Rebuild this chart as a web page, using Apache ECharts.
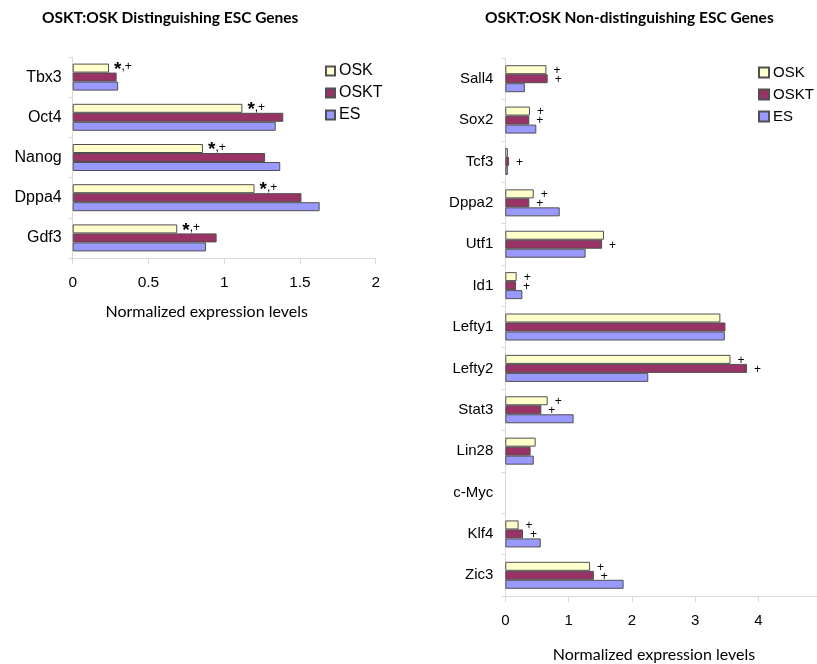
<!DOCTYPE html>
<html>
<head>
<meta charset="utf-8">
<script src="https://cdn.jsdelivr.net/npm/echarts@6/dist/echarts.min.js"></script>
<style>
  html, body { margin: 0; padding: 0; background: #fff; }
  #main { width: 817px; height: 664px; }
</style>
</head>
<body>
<div id="main"></div>
<script>
// left panel: distinguishing genes
var leftGenes = ['Tbx3', 'Oct4', 'Nanog', 'Dppa4', 'Gdf3'];
var leftOSK  = [0.24, 1.12, 0.86, 1.20, 0.69];
var leftOSKT = [0.29, 1.39, 1.27, 1.51, 0.95];
var leftES   = [0.30, 1.34, 1.37, 1.63, 0.88];
var leftOSKMarks = ['*,+', '*,+', '*,+', '*,+', '*,+'];
var leftTicks = ['0', '0.5', '1', '1.5', '2'];

// right panel: non-distinguishing genes
var rightGenes = ['Sall4', 'Sox2', 'Tcf3', 'Dppa2', 'Utf1', 'Id1', 'Lefty1', 'Lefty2', 'Stat3', 'Lin28', 'c-Myc', 'Klf4', 'Zic3'];
var rightOSK  = [0.65, 0.39, 0.04, 0.45, 1.56, 0.18, 3.40, 3.56, 0.67, 0.48, 0, 0.21, 1.34];
var rightOSKT = [0.67, 0.38, 0.06, 0.38, 1.53, 0.17, 3.48, 3.82, 0.57, 0.40, 0, 0.28, 1.40];
var rightES   = [0.31, 0.49, 0.04, 0.86, 1.27, 0.27, 3.47, 2.26, 1.08, 0.45, 0, 0.56, 1.87];
var rightOSKMarks  = ['+', '+', '', '+', '', '+', '', '+', '+', '', '', '+', '+'];
var rightOSKTMarks = ['+', '+', '+', '+', '+', '+', '', '+', '+', '', '', '+', '+'];

var colors = { OSK: '#ffffcc', OSKT: '#993366', ES: '#9999ff' };
var mainFont = 'Liberation Sans';
var nameFont = 'Lato';

function withMarks(values, marks, leftPanel) {
  return values.map(function (v, i) {
    var m = marks ? marks[i] : '';
    var item = { value: v };
    // zero bars draw nothing (no border sliver)
    if (v === 0) item.itemStyle = { borderWidth: 0 };
    if (m) {
      item.label = {
        show: true,
        position: 'right',
        distance: leftPanel ? 5 : 7,
        offset: leftPanel ? [0, -1] : [0, 1],
        formatter: leftPanel ? '{s|*}{p|,+}' : '+',
        color: '#000',
        fontFamily: mainFont,
        fontSize: 12,
        rich: {
          s: { fontSize: 19, fontWeight: 'bold', color: '#000', padding: [5, 0, 0, 0] },
          p: { fontSize: 12, color: '#000' }
        }
      };
    }
    return item;
  });
}

function barSeries(name, values, marks, idx, leftPanel) {
  return {
    name: name,
    type: 'bar',
    xAxisIndex: idx,
    yAxisIndex: idx,
    barWidth: 9,
    barGap: '0%',
    itemStyle: { color: colors[name], borderColor: '#505050', borderWidth: 1 },
    data: withMarks(values, marks, leftPanel)
  };
}

var axisGray = '#d9d9d9';

var chart = echarts.init(document.getElementById('main'));
chart.setOption({
  animation: false,
  backgroundColor: '#fff',
  title: [
    { text: 'OSKT:OSK Distinguishing ESC Genes', left: 42, top: 10, padding: 0,
      textStyle: { fontFamily: nameFont, fontSize: 15.5, fontWeight: 'bold', color: '#000' } },
    { text: 'OSKT:OSK Non-distinguishing ESC Genes', left: 485, top: 10, padding: 0,
      textStyle: { fontFamily: nameFont, fontSize: 15.5, fontWeight: 'bold', color: '#000' } }
  ],
  legend: [
    { orient: 'vertical', left: 320, top: 58, itemWidth: 9, itemHeight: 9, itemGap: 6,
      selectedMode: false, icon: 'rect', data: ['OSK', 'OSKT', 'ES'],
      textStyle: { fontFamily: mainFont, fontSize: 16, color: '#000', padding: [0, 0, 0, -1] } },
    { orient: 'vertical', left: 753, top: 60, itemWidth: 10, itemHeight: 10, itemGap: 7,
      selectedMode: false, icon: 'rect', data: ['OSK', 'OSKT', 'ES'],
      textStyle: { fontFamily: mainFont, fontSize: 15, color: '#000', padding: [0, 0, 0, -1] } }
  ],
  grid: [
    { left: 72.7, width: 303, top: 57, bottom: 406, outerBoundsMode: 'none' },
    { left: 505.3, width: 316.3, top: 58, bottom: 68, outerBoundsMode: 'none' }
  ],
  xAxis: [
    { type: 'value', gridIndex: 0, min: 0, max: 2, interval: 0.5,
      name: 'Normalized expression levels', nameLocation: 'middle', nameGap: 46,
      nameTextStyle: { fontFamily: nameFont, fontSize: 16, color: '#000', padding: [0, 35, 0, 0] },
      axisLine: { show: true, lineStyle: { color: axisGray } },
      axisTick: { show: true, length: 6, lineStyle: { color: axisGray } },
      splitLine: { show: false },
      axisLabel: { margin: 17, fontFamily: mainFont, fontSize: 15.5, color: '#000',
        formatter: function (v) { return leftTicks[Math.round(v / 0.5)]; } } },
    { type: 'value', gridIndex: 1, min: 0, max: 5, interval: 1,
      name: 'Normalized expression levels', nameLocation: 'middle', nameGap: 51,
      nameTextStyle: { fontFamily: nameFont, fontSize: 16, color: '#000', padding: [0, 19, 0, 0] },
      axisLine: { show: true, lineStyle: { color: axisGray } },
      axisTick: { show: true, length: 6, lineStyle: { color: axisGray } },
      splitLine: { show: false },
      axisLabel: { margin: 17, fontFamily: mainFont, fontSize: 15, color: '#000' } }
  ],
  yAxis: [
    { type: 'category', gridIndex: 0, inverse: true, data: leftGenes,
      axisLine: { show: true, lineStyle: { color: axisGray } },
      axisTick: { show: true, length: 4, lineStyle: { color: axisGray } },
      axisLabel: { margin: 11, fontFamily: mainFont, fontSize: 16, color: '#000' } },
    { type: 'category', gridIndex: 1, inverse: true, data: rightGenes,
      axisLine: { show: true, lineStyle: { color: axisGray } },
      axisTick: { show: true, length: 4, lineStyle: { color: axisGray } },
      axisLabel: { margin: 12, fontFamily: mainFont, fontSize: 15, color: '#000' } }
  ],
  series: [
    barSeries('OSK', leftOSK, leftOSKMarks, 0, true),
    barSeries('OSKT', leftOSKT, null, 0, true),
    barSeries('ES', leftES, null, 0, true),
    barSeries('OSK', rightOSK, rightOSKMarks, 1, false),
    barSeries('OSKT', rightOSKT, rightOSKTMarks, 1, false),
    barSeries('ES', rightES, null, 1, false)
  ]
});
</script>
</body>
</html>
